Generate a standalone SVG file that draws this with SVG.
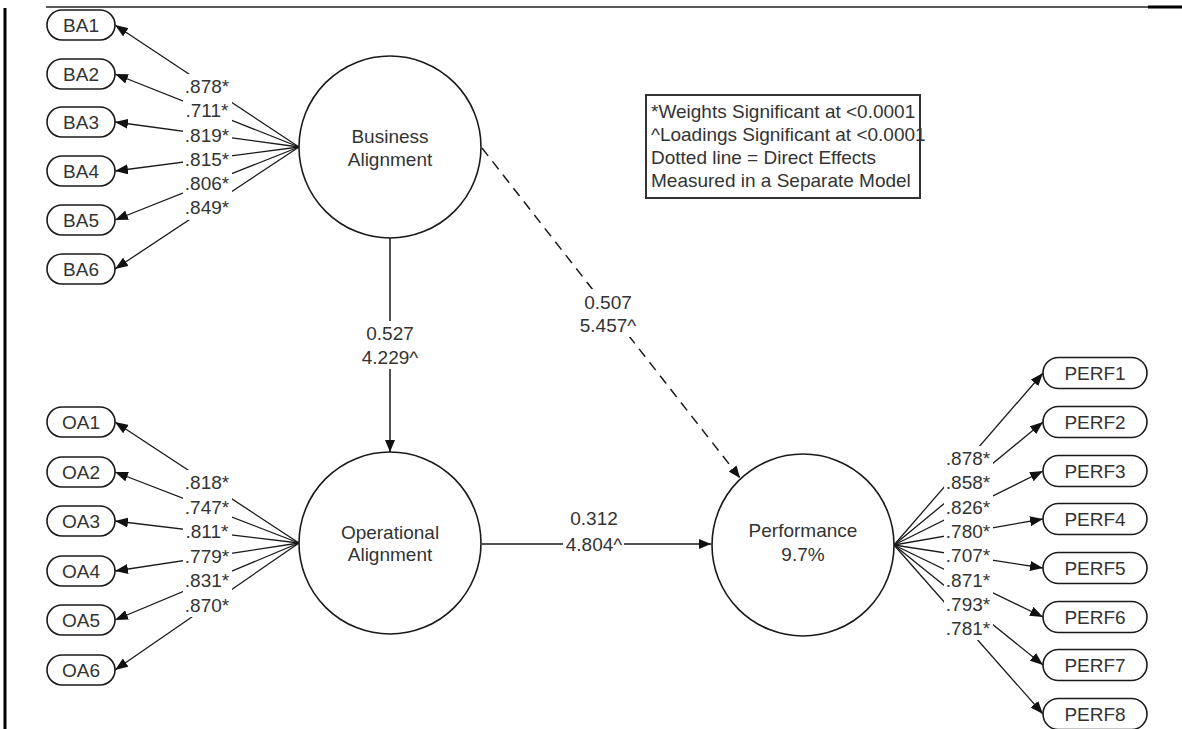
<svg xmlns="http://www.w3.org/2000/svg" width="1182" height="729" viewBox="0 0 1182 729">
  <style>
    text { font-family: "Liberation Sans", Arial, sans-serif; font-size: 19px; fill: #333; }
    .mid { text-anchor: middle; }
    .latent { fill: #fff; stroke: #1a1a1a; stroke-width: 1.6; }
    .ind { fill: #fff; stroke: #1a1a1a; stroke-width: 1.6; }
    .edge { stroke: #1a1a1a; stroke-width: 1.3; fill: none; }
    .path { stroke: #1a1a1a; stroke-width: 1.5; fill: none; marker-end: url(#arrow); }
    .dash { stroke-dasharray: 10 7; }
    .bg { fill: #fff; stroke: none; }
    .legend { fill: #fff; stroke: #333; stroke-width: 2; }
  </style>
  <defs>
    <marker id="arrow" viewBox="0 0 12 10" refX="12" refY="5" markerWidth="12" markerHeight="10" markerUnits="userSpaceOnUse" orient="auto">
      <path d="M0,0 L12,5 L0,10 z" fill="#111"/>
    </marker>
    <marker id="tip" viewBox="0 0 13 10" refX="13" refY="5" markerWidth="13" markerHeight="10" markerUnits="userSpaceOnUse" orient="auto">
      <path d="M0,0 L13,5 L0,10 z" fill="#111"/>
    </marker>
  </defs>

  <rect width="1182" height="729" fill="#fff"/>

  <!-- page frame -->
  <g id="frame">
    <line x1="5" y1="8" x2="5" y2="729" stroke="#000" stroke-width="3"/>
    <line x1="46" y1="7" x2="1148" y2="7" stroke="#222" stroke-width="1.5"/>
    <line x1="1148" y1="7" x2="1182" y2="7" stroke="#000" stroke-width="3"/>
  </g>

  <!-- connectors -->
  <g id="connectors">
    <!-- Business Alignment loadings -->
    <g class="edge" marker-end="url(#tip)">
      <line x1="299" y1="147" x2="115" y2="25"/>
      <line x1="299" y1="147" x2="115" y2="74"/>
      <line x1="299" y1="147" x2="115" y2="122"/>
      <line x1="299" y1="147" x2="115" y2="171"/>
      <line x1="299" y1="147" x2="115" y2="220"/>
      <line x1="299" y1="147" x2="115" y2="269"/>
    </g>
    <!-- Operational Alignment loadings -->
    <g class="edge" marker-end="url(#tip)">
      <line x1="299" y1="543" x2="115" y2="422"/>
      <line x1="299" y1="543" x2="115" y2="472"/>
      <line x1="299" y1="543" x2="115" y2="521"/>
      <line x1="299" y1="543" x2="115" y2="571"/>
      <line x1="299" y1="543" x2="115" y2="620"/>
      <line x1="299" y1="543" x2="115" y2="670"/>
    </g>
    <!-- Performance loadings -->
    <g class="edge" marker-end="url(#tip)">
      <line x1="894" y1="545" x2="1043" y2="373"/>
      <line x1="894" y1="545" x2="1043" y2="422"/>
      <line x1="894" y1="545" x2="1043" y2="471"/>
      <line x1="894" y1="545" x2="1043" y2="519"/>
      <line x1="894" y1="545" x2="1043" y2="568"/>
      <line x1="894" y1="545" x2="1043" y2="617"/>
      <line x1="894" y1="545" x2="1043" y2="665"/>
      <line x1="894" y1="545" x2="1043" y2="714"/>
    </g>
    <!-- structural paths -->
    <line class="path" x1="390" y1="238" x2="390" y2="452"/>
    <line class="path" x1="482" y1="544" x2="711" y2="544"/>
    <line class="path dash" x1="482" y1="148" x2="740" y2="478"/>

    <!-- path coefficients -->
    <g id="labels">
      <rect class="bg" x="183" y="74" width="49" height="146"/>
      <text class="mid" x="207" y="93">.878*</text>
      <text class="mid" x="207" y="117">.711*</text>
      <text class="mid" x="207" y="141.5">.819*</text>
      <text class="mid" x="207" y="165.5">.815*</text>
      <text class="mid" x="207" y="190">.806*</text>
      <text class="mid" x="207" y="214">.849*</text>

      <rect class="bg" x="183" y="470" width="49" height="147"/>
      <text class="mid" x="207" y="489">.818*</text>
      <text class="mid" x="207" y="513.5">.747*</text>
      <text class="mid" x="207" y="538">.811*</text>
      <text class="mid" x="207" y="562.5">.779*</text>
      <text class="mid" x="207" y="587">.831*</text>
      <text class="mid" x="207" y="611.5">.870*</text>

      <rect class="bg" x="944" y="446" width="49" height="194"/>
      <text class="mid" x="968" y="465">.878*</text>
      <text class="mid" x="968" y="489.3">.858*</text>
      <text class="mid" x="968" y="513.6">.826*</text>
      <text class="mid" x="968" y="537.9">.780*</text>
      <text class="mid" x="968" y="562.2">.707*</text>
      <text class="mid" x="968" y="586.5">.871*</text>
      <text class="mid" x="968" y="610.8">.793*</text>
      <text class="mid" x="968" y="635.1">.781*</text>

      <rect class="bg" x="360" y="321" width="60" height="48"/>
      <text class="mid" x="390" y="340">0.527</text>
      <text class="mid" x="390" y="364">4.229^</text>

      <rect class="bg" x="578" y="289" width="60" height="48"/>
      <text class="mid" x="608" y="309">0.507</text>
      <text class="mid" x="608" y="332">5.457^</text>

      <text class="mid" x="594" y="525">0.312</text>
      <rect class="bg" x="563" y="535" width="61" height="18"/>
      <text class="mid" x="594" y="551">4.804^</text>
    </g>
  </g>

  <!-- latent constructs -->
  <g id="business-alignment">
    <circle class="latent" cx="390" cy="147" r="91"/>
    <text class="mid" x="390" y="142.5">Business</text>
    <text class="mid" x="390" y="165.5">Alignment</text>
  </g>
  <g id="operational-alignment">
    <circle class="latent" cx="390" cy="543" r="91"/>
    <text class="mid" x="390" y="539">Operational</text>
    <text class="mid" x="390" y="561">Alignment</text>
  </g>
  <g id="performance">
    <circle class="latent" cx="803" cy="545" r="91"/>
    <text class="mid" x="803" y="537">Performance</text>
    <text class="mid" x="803" y="561">9.7%</text>
  </g>

  <!-- indicators -->
  <g id="BA1"><rect class="ind" x="47" y="10" width="68" height="30" rx="15"/><text class="mid" x="81" y="32">BA1</text></g>
  <g id="BA2"><rect class="ind" x="47" y="59" width="68" height="30" rx="15"/><text class="mid" x="81" y="81">BA2</text></g>
  <g id="BA3"><rect class="ind" x="47" y="107" width="68" height="30" rx="15"/><text class="mid" x="81" y="129">BA3</text></g>
  <g id="BA4"><rect class="ind" x="47" y="156" width="68" height="30" rx="15"/><text class="mid" x="81" y="178">BA4</text></g>
  <g id="BA5"><rect class="ind" x="47" y="205" width="68" height="30" rx="15"/><text class="mid" x="81" y="227">BA5</text></g>
  <g id="BA6"><rect class="ind" x="47" y="254" width="68" height="30" rx="15"/><text class="mid" x="81" y="276">BA6</text></g>

  <g id="OA1"><rect class="ind" x="47" y="407" width="68" height="30" rx="15"/><text class="mid" x="81" y="429">OA1</text></g>
  <g id="OA2"><rect class="ind" x="47" y="457" width="68" height="30" rx="15"/><text class="mid" x="81" y="479">OA2</text></g>
  <g id="OA3"><rect class="ind" x="47" y="506" width="68" height="30" rx="15"/><text class="mid" x="81" y="528">OA3</text></g>
  <g id="OA4"><rect class="ind" x="47" y="556" width="68" height="30" rx="15"/><text class="mid" x="81" y="578">OA4</text></g>
  <g id="OA5"><rect class="ind" x="47" y="605" width="68" height="30" rx="15"/><text class="mid" x="81" y="627">OA5</text></g>
  <g id="OA6"><rect class="ind" x="47" y="655" width="68" height="30" rx="15"/><text class="mid" x="81" y="677">OA6</text></g>

  <g id="PERF1"><rect class="ind" x="1043" y="357.5" width="104" height="31" rx="15.5"/><text class="mid" x="1095" y="380">PERF1</text></g>
  <g id="PERF2"><rect class="ind" x="1043" y="406.5" width="104" height="31" rx="15.5"/><text class="mid" x="1095" y="429">PERF2</text></g>
  <g id="PERF3"><rect class="ind" x="1043" y="455.5" width="104" height="31" rx="15.5"/><text class="mid" x="1095" y="478">PERF3</text></g>
  <g id="PERF4"><rect class="ind" x="1043" y="503.5" width="104" height="31" rx="15.5"/><text class="mid" x="1095" y="526">PERF4</text></g>
  <g id="PERF5"><rect class="ind" x="1043" y="552.5" width="104" height="31" rx="15.5"/><text class="mid" x="1095" y="575">PERF5</text></g>
  <g id="PERF6"><rect class="ind" x="1043" y="601.5" width="104" height="31" rx="15.5"/><text class="mid" x="1095" y="624">PERF6</text></g>
  <g id="PERF7"><rect class="ind" x="1043" y="649.5" width="104" height="31" rx="15.5"/><text class="mid" x="1095" y="672">PERF7</text></g>
  <g id="PERF8"><rect class="ind" x="1043" y="698.5" width="104" height="31" rx="15.5"/><text class="mid" x="1095" y="721">PERF8</text></g>

  <!-- key -->
  <g id="legend">
    <rect class="legend" x="646" y="95" width="274" height="103"/>
    <text x="651" y="118">*Weights Significant at &lt;0.0001</text>
    <text x="651" y="141">^Loadings Significant at &lt;0.0001</text>
    <text x="651" y="164">Dotted line = Direct Effects</text>
    <text x="651" y="187">Measured in a Separate Model</text>
  </g>
</svg>
